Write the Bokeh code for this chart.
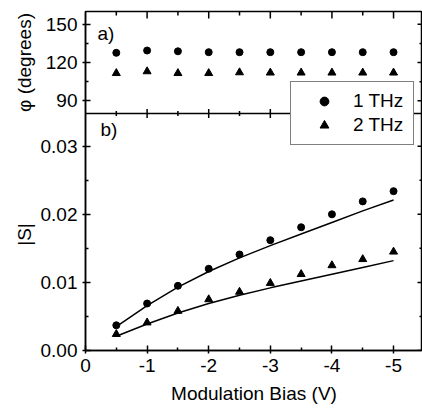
import math
from bokeh.plotting import figure
from bokeh.layouts import row
from bokeh.models import Range1d, FixedTicker, Span, Label, Legend, LegendItem
from bokeh.embed import file_html
from bokeh.resources import INLINE

# ---------------- data ----------------
bias = [-0.5, -1.0, -1.5, -2.0, -2.5, -3.0, -3.5, -4.0, -4.5, -5.0]
phi_1thz = [127.6, 129.4, 128.8, 128.1, 128.1, 128.1, 128.1, 128.1, 128.1, 128.1]
phi_2thz = [111.6, 113.0, 111.6, 111.6, 112.2, 112.0, 112.0, 112.0, 112.0, 112.0]
s_1thz = [0.0037, 0.0069, 0.0095, 0.0120, 0.0141, 0.0162, 0.0181, 0.0200, 0.0219, 0.0234]
s_2thz = [0.00240, 0.0041, 0.0058, 0.0075, 0.0086, 0.0099, 0.0112, 0.0125, 0.0134, 0.0145]
fit_1thz = [0.0035, 0.0066, 0.0093, 0.0116, 0.0136, 0.0154, 0.0171, 0.0188, 0.0205, 0.0221]
fit_2thz = [0.0021, 0.0039, 0.0055, 0.0069, 0.0081, 0.0092, 0.0102, 0.0112, 0.0122, 0.0132]

x_major = [0, -1, -2, -3, -4, -5]
x_minor = [-0.5, -1.5, -2.5, -3.5, -4.5]
x_labels = ["0", "-1", "-2", "-3", "-4", "-5"]
phi_major = [90, 120, 150]
phi_minor = [105, 135]
phi_labels = ["90", "120", "150"]
s_major = [0.0, 0.01, 0.02, 0.03]
s_minor = [0.005, 0.015, 0.025]
s_labels = ["0.00", "0.01", "0.02", "0.03"]
series_labels = ["1 THz", "2 THz"]
phi_title = "φ (degrees)"
s_title = "|S|"
x_title = "Modulation Bias (V)"

# ---------------- ranges ----------------
X_START, X_END = 0.0, -5.47
S_TOP = 0.0348
PHI_BOTTOM, PHI_TOP = 80.0, 160.0
S_FRACTION = 0.699  # share of the frame height used by panel b)

Y_END = S_TOP / S_FRACTION
PHI_START = PHI_TOP - (PHI_TOP - PHI_BOTTOM) / (1 - S_FRACTION)


def phi_to_main(v):
    return (v - PHI_START) / (PHI_TOP - PHI_START) * Y_END


FONT = "Liberation Sans"
FS = "19px"
H = 409
LW = 36  # width of the y-title strip

# ---------------- y-title strip (its frame is aligned with the main frame) ----------------
lab = figure(width=LW, height=H, x_range=Range1d(0, 1), y_range=Range1d(0, 1),
             output_backend="svg", toolbar_location=None, min_border=0,
             x_axis_location=None, y_axis_location=None)
lab.grid.visible = False
lab.outline_line_color = None
common = dict(x_units="screen", y_units="screen", text_font=FONT,
              text_font_size=FS, text_color="black")
lab.add_layout(Label(x=24, y=288, text=phi_title, angle=math.pi / 2,
                     text_align="center", text_baseline="middle", **common))
lab.add_layout(Label(x=24, y=116, text=s_title, angle=math.pi / 2,
                     text_align="center", text_baseline="middle", **common))

# ---------------- main plot ----------------
p = figure(width=422 - LW, height=H,
           x_range=Range1d(X_START, X_END), y_range=Range1d(0, Y_END),
           output_backend="svg", toolbar_location=None,
           min_border_left=85 - LW, min_border_right=0,
           min_border_top=11, min_border_bottom=59)
p.extra_y_ranges = {"phi": Range1d(PHI_START, PHI_TOP)}
p.grid.visible = False
p.outline_line_color = "black"
p.outline_line_width = 1.5
p.background_fill_color = "white"
p.border_fill_color = "white"

xa = p.xaxis[0]
xa.ticker = FixedTicker(ticks=x_major, minor_ticks=x_minor)
xa.major_label_overrides = {t: l for t, l in zip(x_major, x_labels)}
xa.axis_label = x_title

ya = p.yaxis[0]
ya.ticker = FixedTicker(ticks=s_major + [phi_to_main(v) for v in phi_major],
                        minor_ticks=s_minor + [phi_to_main(v) for v in phi_minor])
ov = {t: l for t, l in zip(s_major, s_labels)}
ov.update({phi_to_main(v): l for v, l in zip(phi_major, phi_labels)})
ya.major_label_overrides = ov

for ax in (xa, ya):
    ax.axis_line_color = "black"
    ax.axis_line_width = 1.5
    ax.major_tick_line_color = "black"
    ax.minor_tick_line_color = "black"
    ax.major_tick_line_width = 1.5
    ax.minor_tick_line_width = 1.5
    ax.major_tick_in = 5
    ax.major_tick_out = 3
    ax.minor_tick_in = 3
    ax.minor_tick_out = 0
    ax.major_label_text_font = FONT
    ax.major_label_text_font_size = FS
    ax.major_label_text_color = "black"
    ax.axis_label_text_font = FONT
    ax.axis_label_text_font_size = FS
    ax.axis_label_text_font_style = "normal"
    ax.axis_label_text_color = "black"
xa.major_label_standoff = 5
xa.axis_label_standoff = 8
ya.major_label_standoff = 5

# panel divider and its ticks
p.add_layout(Span(location=PHI_BOTTOM, dimension="width", y_range_name="phi",
                  line_color="black", line_width=1.5))
tick_style = dict(marker="dash", line_color="black", line_width=1.5)
p.scatter(x=x_major[1:], y=[PHI_BOTTOM] * (len(x_major) - 1), y_range_name="phi",
          angle=math.pi / 2, size=9, **tick_style)
p.scatter(x=x_minor, y=[PHI_BOTTOM] * len(x_minor), y_range_name="phi",
          angle=math.pi / 2, size=5, **tick_style)
# top edge ticks
p.scatter(x=x_major[1:], y=[PHI_TOP] * (len(x_major) - 1), y_range_name="phi",
          angle=math.pi / 2, size=14, **tick_style)
p.scatter(x=x_minor, y=[PHI_TOP] * len(x_minor), y_range_name="phi",
          angle=math.pi / 2, size=8, **tick_style)
# right edge ticks
p.scatter(x=[X_END] * len(phi_major), y=phi_major, y_range_name="phi", size=10, **tick_style)
p.scatter(x=[X_END] * len(phi_minor), y=phi_minor, y_range_name="phi", size=6, **tick_style)
p.scatter(x=[X_END] * len(s_major), y=s_major, size=10, **tick_style)
p.scatter(x=[X_END] * len(s_minor), y=s_minor, size=6, **tick_style)

# panel a)
p.scatter(bias, phi_1thz, y_range_name="phi", marker="circle", size=7, color="black")
p.scatter(bias, phi_2thz, y_range_name="phi", marker="triangle", size=8, color="black")

# panel b)
p.line(bias, fit_1thz, line_color="black", line_width=1.5)
p.line(bias, fit_2thz, line_color="black", line_width=1.5)
r1 = p.scatter(bias, s_1thz, marker="circle", size=7, color="black")
r2 = p.scatter(bias, s_2thz, marker="triangle", size=8, color="black")

p.add_layout(Label(x=12, y=317, text="a)", text_align="left",
                   text_baseline="middle", **common))
p.add_layout(Label(x=15, y=221, text="b)", text_align="left",
                   text_baseline="middle", **common))

legend = Legend(items=[LegendItem(label=series_labels[0], renderers=[r1]),
                       LegendItem(label=series_labels[1], renderers=[r2])],
                location=(205, 205), border_line_color="black", border_line_width=1,
                background_fill_color="white", background_fill_alpha=1.0,
                padding=8, spacing=2, margin=0, glyph_width=50, glyph_height=22,
                label_standoff=4, label_width=52, label_height=22,
                label_text_font=FONT, label_text_font_size=FS, label_text_color="black")
p.add_layout(legend)

layout = row(lab, p, spacing=0)
open("out.html", "w").write(file_html(layout, INLINE))
